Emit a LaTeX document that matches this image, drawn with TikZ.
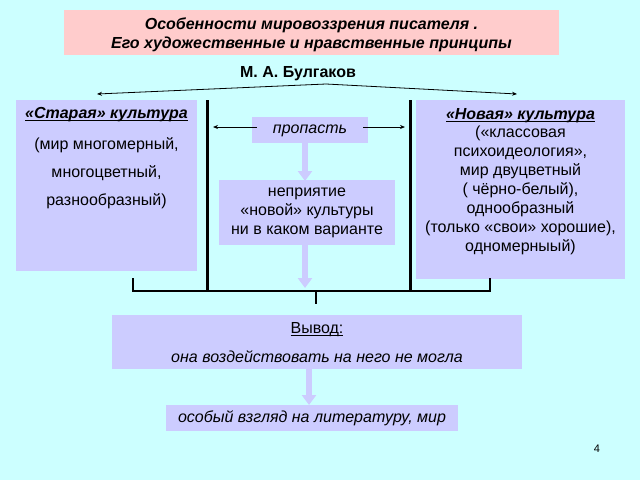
\documentclass[tikz,border=0pt]{standalone}
\usepackage{fontspec}
\setmainfont{Liberation Sans}
\usetikzlibrary{arrows.meta}
\definecolor{bgc}{HTML}{CCFFFF}
\definecolor{pinkc}{HTML}{FFCCCC}
\definecolor{lavc}{HTML}{CCCCFF}
\newcommand{\myul}[1]{\underline{\smash{#1}}\vphantom{#1}}
\tikzset{
  box/.style={fill=#1, draw=none, inner sep=0pt},
  txt/.style={inner sep=0pt, align=center, font=\fontsize{16}{19}\selectfont},
  thickln/.style={line width=3pt, black},
  bracket/.style={line width=2.2pt, black},
  thinarrow/.style={-{Stealth[length=5pt,width=4pt]}, line width=0.8pt, black},
  lavarrow/.style={-{Triangle[length=10pt,width=14pt]}, line width=6pt, lavc},
}
\begin{document}
\begin{tikzpicture}[x=1pt,y=-1pt]
\useasboundingbox (0,0) rectangle (640,480);
\fill[bgc] (0,0) rectangle (640,480);
% title
\fill[pinkc] (64,10) rectangle (559,55);
\node[txt, font=\fontsize{16}{19}\selectfont\bfseries\itshape] (title) at (311.5,35) {Особенности мировоззрения писателя .\\Его художественные и нравственные принципы};
\node[txt, font=\fontsize{16}{18}\selectfont\bfseries] (author) at (298,74) {М. А. Булгаков};
\coordinate (apex) at (326,84);
\coordinate (lt) at (97,94);
\coordinate (rt) at (517,94);
\draw[thinarrow] (apex) -- (lt);
\draw[thinarrow] (apex) -- (rt);
% left and right boxes
\fill[lavc] (16,100) rectangle (197,271);
\fill[lavc] (416,100) rectangle (625,279);
\node[txt, font=\fontsize{16}{18}\selectfont\bfseries\itshape] (oldh) at (106.5,115) {\myul{«Старая» культура}};
\node[txt] (old1) at (106.5,145) {(мир многомерный,};
\node[txt] (old2) at (106.5,173) {многоцветный,};
\node[txt] (old3) at (106.5,201) {разнообразный)};
\node[txt, font=\fontsize{16}{18}\selectfont\bfseries\itshape] (newh) at (520.5,116) {\myul{«Новая» культура}};
\node[txt, anchor=north] (newt) at (520.5,126) {(«классовая\\психоидеология»,\\мир двуцветный\\( чёрно-белый),\\однообразный\\(только «свои» хорошие),\\одномерныый)};
% thick verticals and bracket
\coordinate (lv1) at (207,100);
\coordinate (lv2) at (207,291);
\coordinate (rv1) at (410,100);
\coordinate (rv2) at (410,291);
\draw[thickln] (lv1) -- (lv2);
\draw[thickln] (rv1) -- (rv2);
\coordinate (bl) at (133,278);
\coordinate (br) at (490,278);
\coordinate (stem) at (316,304);
\draw[bracket] (bl) |- (316,291) -| (br);
\draw[bracket] (316,291) -- (stem);
% gap box
\node[box=lavc, minimum width=116pt, minimum height=26pt] (gap) at (310,130) {};
\node[txt, font=\fontsize{16}{18}\selectfont\itshape] (gapt) at (310,131) {пропасть};
\draw[thinarrow] (gap.west) ++(5,-3) coordinate (gw) -- (213,127);
\draw[thinarrow] (gap.east) ++(-5,-3) coordinate (ge) -- (405,127);
% rejection box
\node[box=lavc, minimum width=176pt, minimum height=65pt] (rej) at (307,212.5) {};
\node[txt] (rejt) at (307,213) {неприятие\\ «новой» культуры\\ ни в каком варианте};
\draw[lavarrow] (305,143) -- (305,181);
\draw[lavarrow] (305,245) -- (305,288);
% conclusion
\node[box=lavc, minimum width=410pt, minimum height=54pt] (conc) at (317,342) {};
\node[txt] (conc1) at (317,330) {\myul{Вывод:}};
\node[txt, font=\fontsize{16}{18}\selectfont\itshape] (conc2) at (317,357) {она воздействовать на него не могла};
\draw[lavarrow] (309,369) -- (309,405);
\node[box=lavc, minimum width=292pt, minimum height=26pt] (fin) at (312,418) {};
\node[txt, font=\fontsize{16}{18}\selectfont\itshape] (fint) at (312,418) {особый взгляд на литературу, мир};
\node[txt, font=\fontsize{11}{12}\selectfont] (page) at (597,449) {4};
\end{tikzpicture}
\end{document}
